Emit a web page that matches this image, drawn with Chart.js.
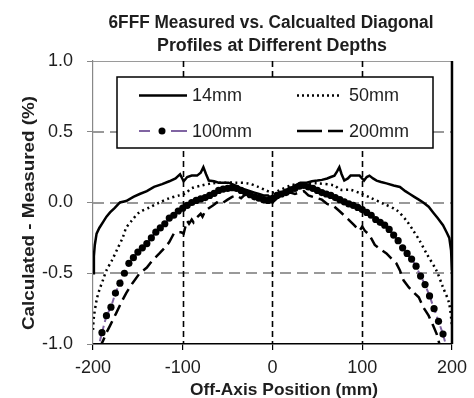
<!DOCTYPE html>
<html><head><meta charset="utf-8">
<script src="https://cdn.jsdelivr.net/npm/chart.js@4/dist/chart.umd.min.js"></script>
<style>html,body{margin:0;padding:0;background:#fff;}canvas{display:block;}</style>
</head><body>
<canvas id="c" width="474" height="398"></canvas>
<script>
const titleLines = ["6FFF Measured vs. Calcualted Diagonal", "Profiles at Different Depths"];
const xAxisTitle = "Off-Axis Position (mm)";
const yAxisTitle = "Calculated - Measured (%)";
const seriesNames = ["14mm", "50mm", "100mm", "200mm"];
const xTickValues = [-200, -100, 0, 100, 200];
const yTickValues = [-1.0, -0.5, 0.0, 0.5, 1.0];
const refLinesX = [-100, 0, 100];
const refLinesY = [-0.5, 0, 0.5];

const pos14 = [-200,-199,-198,-196,-193,-189,-185,-181,-176,-170,-163,-155,-148,-140,-132,-123,-115,-108,-103,-99,-95,-90,-84,-80,-77,-74,-71,-65,-60,-55,-49,-45,-41,-35,-30,-25,-20,-15,-10,-5,0,3,7,10,15,20,25,31,38,44,50,55,61,65,69,72,74.5,77,80,84,87,92,97,102,105,108,112,116,121,127,135,142,148,153,158,163,168,174,179,184,190,194,197,199,200];
const val14 = [-0.50,-0.38,-0.30,-0.22,-0.18,-0.14,-0.10,-0.07,-0.04,0.0,0.01,0.04,0.06,0.08,0.11,0.13,0.15,0.17,0.20,0.15,0.18,0.19,0.19,0.21,0.25,0.20,0.155,0.15,0.14,0.14,0.14,0.13,0.12,0.10,0.09,0.08,0.07,0.06,0.05,0.05,0.02,0.05,0.06,0.07,0.09,0.10,0.12,0.14,0.14,0.15,0.155,0.16,0.17,0.18,0.19,0.22,0.25,0.20,0.155,0.17,0.19,0.19,0.19,0.155,0.18,0.19,0.17,0.155,0.145,0.135,0.12,0.11,0.08,0.06,0.04,0.02,0.0,-0.03,-0.07,-0.11,-0.16,-0.21,-0.25,-0.34,-0.48];

const pos50 = [-200,-199,-196,-193,-189,-185,-179,-173,-167,-163,-157,-148.5,-137,-126,-115,-104,-97,-90,-79,-68,-55,-41,-27,-16,-7,0,9,20,31,50,69,75.6,86.6,97.7,108.7,124,138.5,149.5,157,164,171.6,182.6,190,196.7,200];
const val50 = [-0.90,-0.81,-0.69,-0.62,-0.55,-0.48,-0.41,-0.33,-0.25,-0.18,-0.13,-0.07,-0.035,0.0,0.03,0.05,0.065,0.10,0.12,0.135,0.14,0.14,0.135,0.11,0.085,0.07,0.09,0.12,0.135,0.135,0.12,0.09,0.09,0.065,0.035,-0.01,-0.055,-0.13,-0.20,-0.27,-0.36,-0.48,-0.60,-0.71,-0.87];

const pos100 = [-195,-190,-185,-180,-175,-170,-165,-160,-155,-150,-145,-140,-135,-130,-125,-120,-115,-110,-105,-100,-95,-90,-85,-80,-75,-70,-65,-60,-55,-50,-45,-40,-35,-30,-25,-20,-15,-10,-5,0,5,10,15,20,25,30,35,40,45,50,55,60,65,70,75,80,85,90,95,100,105,110,115,120,125,130,135,140,145,150,155,160,165,170,175,180,185,190,195];
const val100 = [-1.05,-0.92,-0.80,-0.74,-0.64,-0.57,-0.50,-0.43,-0.39,-0.35,-0.32,-0.29,-0.25,-0.21,-0.18,-0.15,-0.11,-0.09,-0.06,-0.04,-0.02,0.0,0.015,0.025,0.035,0.05,0.065,0.085,0.095,0.10,0.105,0.10,0.085,0.07,0.055,0.04,0.03,0.02,0.015,0.03,0.05,0.06,0.07,0.09,0.10,0.115,0.12,0.11,0.10,0.085,0.07,0.06,0.05,0.035,0.02,0.005,-0.01,-0.02,-0.035,-0.05,-0.07,-0.09,-0.12,-0.14,-0.16,-0.19,-0.23,-0.27,-0.32,-0.36,-0.40,-0.45,-0.52,-0.58,-0.66,-0.75,-0.84,-0.93,-1.05];

const pos200 = [-193,-189,-185,-181,-174,-168,-163,-156,-148,-140,-134,-126,-120,-115,-110,-106,-102,-99,-97,-95,-93,-90,-88,-85,-80,-78,-75,-71,-66,-62,-57,-50,-45,-40,-35,-30,-25,-20,-15,-10,-5,0,5,10,15,20,25,30,35,40,45,50,55,61,69,74.5,83,91,97,100,103,108,114,120,127,133,138,142,146,152,158,163,168,174,179,183,186,189];
const val200 = [-1.03,-0.98,-0.92,-0.87,-0.78,-0.70,-0.64,-0.57,-0.50,-0.46,-0.41,-0.36,-0.32,-0.28,-0.22,-0.21,-0.21,-0.22,-0.17,-0.13,-0.15,-0.12,-0.14,-0.11,-0.08,-0.10,-0.06,-0.04,-0.02,0.0,-0.01,0.02,0.04,0.05,0.03,0.06,0.07,0.05,0.04,0.03,0.02,0.0,0.03,0.05,0.06,0.07,0.06,0.07,0.08,0.05,0.04,0.03,0.02,-0.01,-0.03,-0.06,-0.11,-0.16,-0.20,-0.17,-0.20,-0.23,-0.30,-0.33,-0.36,-0.40,-0.43,-0.48,-0.55,-0.60,-0.64,-0.67,-0.74,-0.80,-0.87,-0.93,-1.00,-1.04];

function pts(xs, ys) { return xs.map((x, i) => ({x: x, y: ys[i]})); }

const FONT = "'Liberation Sans', Arial, sans-serif";
const TXT = '#1e1e1e';

function fitText(ctx, text, x, y, targetW, size, rot) {
  ctx.save();
  ctx.font = 'bold ' + size + 'px ' + FONT;
  const w = ctx.measureText(text).width;
  ctx.translate(x, y);
  if (rot) ctx.rotate(rot);
  ctx.scale(targetW / w, 1);
  ctx.textAlign = 'center';
  ctx.textBaseline = 'alphabetic';
  ctx.fillStyle = TXT;
  ctx.fillText(text, 0, 0);
  ctx.restore();
}

const decor = {
  id: 'decor',
  beforeDatasetsDraw(chart) {
    const ctx = chart.ctx, a = chart.chartArea;
    const xs = chart.scales.x, ys = chart.scales.y;
    ctx.save();
    ctx.strokeStyle = '#9a9a9a'; ctx.lineWidth = 1;
    ctx.beginPath(); ctx.moveTo(a.left, a.top + 0.5); ctx.lineTo(a.right, a.top + 0.5); ctx.stroke();
    ctx.strokeStyle = '#999999'; ctx.lineWidth = 2; ctx.setLineDash([11, 6]);
    refLinesY.forEach(v => {
      const y = Math.round(ys.getPixelForValue(v));
      ctx.beginPath(); ctx.moveTo(a.left, y); ctx.lineTo(a.right, y); ctx.stroke();
    });
    ctx.strokeStyle = '#000'; ctx.lineWidth = 1.6; ctx.setLineDash([6, 4]);
    refLinesX.forEach(v => {
      const x = Math.round(xs.getPixelForValue(v)) + 0.5;
      ctx.beginPath(); ctx.moveTo(x, a.top); ctx.lineTo(x, a.bottom); ctx.stroke();
    });
    ctx.setLineDash([]);
    ctx.restore();
  },
  afterDatasetsDraw(chart) {
    const ctx = chart.ctx, a = chart.chartArea;
    ctx.save();
    ctx.strokeStyle = '#000'; ctx.lineWidth = 2.5;
    ctx.beginPath(); ctx.moveTo(a.right, a.top); ctx.lineTo(a.right, a.bottom); ctx.stroke();
    const L = 117, T = 77, R = 433, B = 148;
    ctx.fillStyle = '#fff'; ctx.fillRect(L, T, R - L, B - T);
    ctx.strokeStyle = '#000'; ctx.lineWidth = 1.5; ctx.strokeRect(L, T, R - L, B - T);
    const rows = [95.5, 131];
    const ds = chart.data.datasets;
    ctx.strokeStyle = '#000'; ctx.lineWidth = 2.5; ctx.setLineDash([]);
    ctx.beginPath(); ctx.moveTo(139, rows[0]); ctx.lineTo(187, rows[0]); ctx.stroke();
    ctx.strokeStyle = ds[2].borderColor; ctx.lineWidth = 2;
    ctx.beginPath(); ctx.moveTo(139, rows[1]); ctx.lineTo(150, rows[1]); ctx.moveTo(171, rows[1]); ctx.lineTo(187, rows[1]); ctx.stroke();
    ctx.fillStyle = '#000'; ctx.beginPath(); ctx.arc(162, rows[1], 3.5, 0, Math.PI * 2); ctx.fill();
    ctx.strokeStyle = '#000'; ctx.lineWidth = 2.5; ctx.setLineDash([2, 3]);
    ctx.beginPath(); ctx.moveTo(297, rows[0]); ctx.lineTo(341, rows[0]); ctx.stroke();
    ctx.setLineDash([]);
    ctx.beginPath(); ctx.moveTo(297, rows[1]); ctx.lineTo(322, rows[1]); ctx.moveTo(328, rows[1]); ctx.lineTo(343, rows[1]); ctx.stroke();
    ctx.fillStyle = TXT; ctx.font = '18px ' + FONT; ctx.textAlign = 'left'; ctx.textBaseline = 'middle';
    ctx.fillText(seriesNames[0], 192, rows[0] + 1);
    ctx.fillText(seriesNames[2], 192, rows[1] + 1);
    ctx.fillText(seriesNames[1], 349, rows[0] + 1);
    ctx.fillText(seriesNames[3], 349, rows[1] + 1);
    ctx.restore();
  },
  afterDraw(chart) {
    const ctx = chart.ctx;
    fitText(ctx, titleLines[0], 271, 28, 325, 18);
    fitText(ctx, titleLines[1], 272, 51, 230, 18);
    fitText(ctx, xAxisTitle, 284, 395, 188, 17);
    fitText(ctx, yAxisTitle, 34, 213, 234, 17, -Math.PI / 2);
  }
};

new Chart(document.getElementById('c'), {
  type: 'line',
  data: {
    datasets: [
      {label: seriesNames[0], data: pts(pos14, val14), borderColor: '#000', borderWidth: 2.5, pointRadius: 0, tension: 0},
      {label: seriesNames[1], data: pts(pos50, val50), borderColor: '#000', borderWidth: 2.5, borderDash: [2, 3.5], pointRadius: 0, tension: 0.3},
      {label: seriesNames[2], data: pts(pos100, val100), borderColor: '#8064A2', borderWidth: 2, borderDash: [6, 4], pointRadius: 3.6, pointBackgroundColor: '#000', pointBorderColor: '#000', pointBorderWidth: 0},
      {label: seriesNames[3], data: pts(pos200, val200), borderColor: '#000', borderWidth: 2.5, borderDash: [12, 6], pointRadius: 0, tension: 0}
    ]
  },
  options: {
    responsive: false,
    devicePixelRatio: 1,
    animation: false,
    layout: {padding: {top: 61, right: 18, left: 0, bottom: 0}},
    plugins: {legend: {display: false}, title: {display: false}, tooltip: {enabled: false}},
    scales: {
      x: {
        type: 'linear', min: -200, max: 200,
        afterBuildTicks: s => { s.ticks = xTickValues.map(v => ({value: v})); },
        afterFit: s => { s.height = 54; },
        ticks: {font: {family: FONT, size: 18}, color: TXT, padding: 7, maxRotation: 0, autoSkip: false},
        grid: {drawOnChartArea: false, drawTicks: true, tickLength: 6, color: '#000', lineWidth: 1.2},
        border: {display: true, color: '#000', width: 1.5}
      },
      y: {
        type: 'linear', min: -1, max: 1,
        afterBuildTicks: s => { s.ticks = yTickValues.map(v => ({value: v})); },
        afterFit: s => { s.width = 93; },
        ticks: {font: {family: FONT, size: 18}, color: TXT, padding: 14, callback: v => Number(v).toFixed(1)},
        grid: {drawOnChartArea: false, drawTicks: true, tickLength: 6, color: '#888', lineWidth: 1},
        border: {display: true, color: '#888', width: 1.2}
      }
    }
  },
  plugins: [decor]
});
</script>
</body></html>
